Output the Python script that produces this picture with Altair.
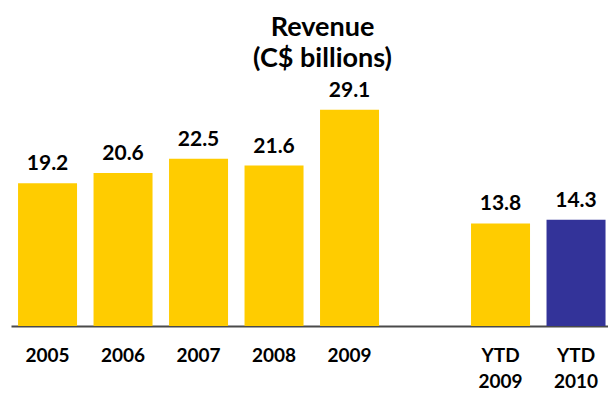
import altair as alt
import pandas as pd

categories = ["2005", "2006", "2007", "2008", "2009", "YTD 2009", "YTD 2010"]
values = [19.2, 20.6, 22.5, 21.6, 29.1, 13.8, 14.3]
periods = ["prior", "prior", "prior", "prior", "prior", "prior", "current"]
x_domain = ["2005", "2006", "2007", "2008", "2009", " ", "YTD 2009", "YTD 2010"]
title_lines = ["Revenue", "(C$ billions)"]

df = pd.DataFrame({"cat": categories, "value": values, "period": periods})

FONT = "Lato"

x_enc = alt.X(
    "cat:N",
    scale=alt.Scale(domain=x_domain, paddingInner=0.2185, paddingOuter=0.063, align=0.74),
    axis=alt.Axis(
        title=None,
        labelAngle=0,
        ticks=False,
        grid=False,
        domainColor="#4a4a4a",
        domainWidth=2,
        labelFont=FONT,
        labelFontWeight="bold",
        labelFontSize=19,
        labelColor="#000000",
        labelPadding=20,
        labelLineHeight=26,
        labelExpr="split(datum.label, ' ')",
    ),
)
y_enc = alt.Y("value:Q", scale=alt.Scale(domain=[0, 33.65], nice=False), axis=None)

base = alt.Chart(df).encode(x=x_enc, y=y_enc)

bars = base.mark_bar().encode(
    color=alt.Color(
        "period:N",
        scale=alt.Scale(domain=["prior", "current"], range=["#FFCC00", "#333399"]),
        legend=None,
    )
)

labels = base.mark_text(
    baseline="alphabetic", dy=-13, font=FONT, fontWeight="bold", fontSize=21, color="#000000"
).encode(text=alt.Text("value:Q", format=".1f"))

chart = (
    alt.layer(bars, labels)
    .properties(
        width=597,
        height=250,
        autosize=alt.AutoSizeParams(type="none"),
        padding={"left": 3, "right": 0, "top": 68, "bottom": 65},
        title=alt.TitleParams(
            text=title_lines,
            font=FONT,
            fontWeight="bold",
            fontSize=27,
            lineHeight=31,
            color="#000000",
            anchor="middle",
            dx=13,
            offset=3,
        ),
    )
    .configure_view(stroke=None)
)

chart.save("out.html", embed_options={"renderer": "svg", "actions": False})
